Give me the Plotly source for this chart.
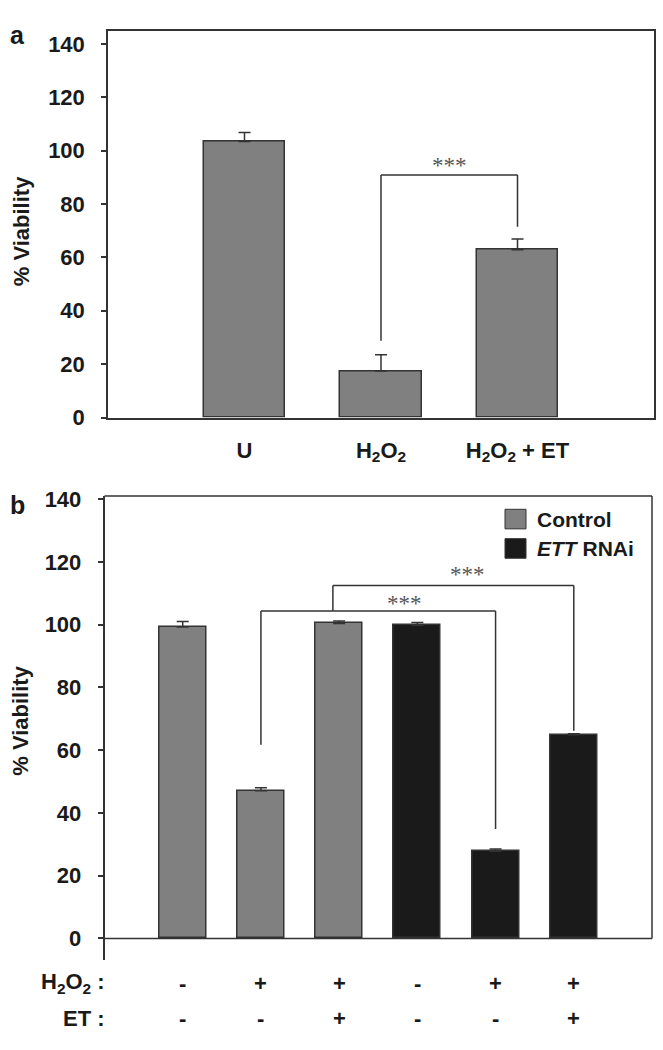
import plotly.graph_objects as go

# ---------------- data ----------------
# Panel a
cats_a = ["U", "H<sub>2</sub>O<sub>2</sub>", "H<sub>2</sub>O<sub>2</sub> + ET"]
vals_a = [103.4, 17.4, 62.9]
errs_a = [3.4, 6.1, 4.0]
# significance bracket a: (x_left, x_right, y_top, left_leg_bottom, right_leg_bottom)
brackets_a = [(1, 2, 90.9, 28.8, 71.5)]
stars_a = [(1.5, 96.4, "***")]

# Panel b
h2o2_row = ["-", "+", "+", "-", "+", "+"]
et_row = ["-", "-", "+", "-", "-", "+"]
ctrl_x = [0, 1, 2]
ctrl_vals = [99.3, 47.1, 100.4]
ctrl_errs = [1.7, 0.9, 0.8]
ett_x = [3, 4, 5]
ett_vals = [99.8, 27.8, 64.9]
ett_errs = [0.9, 0.7, 0.3]
brackets_b = [(1, 4, 104.4, 61.7, 34.9), (1.92, 5, 112.5, 104.4, 66.2)]
stars_b = [(2.84, 108.2, "***"), (3.64, 117.5, "***")]
legend_names = ["Control", "<i>ETT</i> RNAi"]

GREY = "#808080"
BLACK = "#1a1a1a"
LINE = "#333333"
TXT = "#1a1a1a"
FONT = "Liberation Sans, Arial, sans-serif"

W, H = 663, 1050


def px_x(p):
    return p / W


def px_y(p):
    return 1 - p / H


fig = go.Figure()

fig.add_trace(go.Bar(
    x=list(range(len(vals_a))), y=vals_a, width=0.6,
    marker=dict(color=GREY, line=dict(color=LINE, width=1.5)),
    error_y=dict(type="data", symmetric=False, array=errs_a,
                 arrayminus=[0] * len(errs_a), color=LINE, thickness=1.5, width=6),
    xaxis="x", yaxis="y", showlegend=False))

fig.add_trace(go.Bar(
    x=ctrl_x, y=ctrl_vals, width=0.6,
    marker=dict(color=GREY, line=dict(color=LINE, width=1.5)),
    error_y=dict(type="data", symmetric=False, array=ctrl_errs,
                 arrayminus=[0] * 3, color=LINE, thickness=1.5, width=6),
    xaxis="x2", yaxis="y2", showlegend=False, name="Control"))

fig.add_trace(go.Bar(
    x=ett_x, y=ett_vals, width=0.6,
    marker=dict(color=BLACK, line=dict(color=LINE, width=1.5)),
    error_y=dict(type="data", symmetric=False, array=ett_errs,
                 arrayminus=[0] * 3, color=LINE, thickness=1.5, width=6),
    xaxis="x2", yaxis="y2", showlegend=False, name="ETT RNAi"))

shapes = []
annotations = []


def add_bracket(xr, yr, b):
    xl, xrgt, yt, lb, rb = b
    for (x0, y0, x1, y1) in [(xl, lb, xl, yt), (xl, yt, xrgt, yt), (xrgt, yt, xrgt, rb)]:
        shapes.append(dict(type="line", xref=xr, yref=yr, x0=x0, y0=y0, x1=x1, y1=y1,
                           line=dict(color=LINE, width=1.5)))


for b in brackets_a:
    add_bracket("x", "y", b)
for b in brackets_b:
    add_bracket("x2", "y2", b)

STAR_FONT = dict(family="Liberation Serif, serif", size=23, color="#555555")
for (sx, sy, st) in stars_a:
    annotations.append(dict(x=sx, y=sy, xref="x", yref="y", text=st, showarrow=False,
                            yanchor="middle", yshift=-5, font=STAR_FONT))
for (sx, sy, st) in stars_b:
    annotations.append(dict(x=sx, y=sy, xref="x2", yref="y2", text=st, showarrow=False,
                            yanchor="middle", yshift=-5, font=STAR_FONT))

# panel b frame pieces: zero line, top line, right line (down to zero only)
shapes.append(dict(type="line", xref="x2 domain", yref="y2", x0=0, x1=1, y0=0, y1=0,
                   line=dict(color=LINE, width=1.5)))
shapes.append(dict(type="line", xref="x2 domain", yref="y2 domain", x0=0, x1=1, y0=1, y1=1,
                   line=dict(color=LINE, width=1.5)))
shapes.append(dict(type="line", xref="x2 domain", yref="y2", x0=1, x1=1, y0=0, y1=141,
                   line=dict(color=LINE, width=1.5)))

# legend (panel b)
leg_colors = [GREY, BLACK]
leg_y = [521, 551]
for name, col, yc in zip(legend_names, leg_colors, leg_y):
    shapes.append(dict(type="rect", xref="paper", yref="paper",
                       x0=px_x(505), x1=px_x(526), y0=px_y(yc + 10), y1=px_y(yc - 10),
                       fillcolor=col, line=dict(color=LINE, width=1)))
    annotations.append(dict(x=px_x(535), y=px_y(yc), xref="paper", yref="paper", text=name,
                            showarrow=False, xanchor="left", yanchor="middle",
                            font=dict(family=FONT, size=21, color=TXT, weight="bold")))

# treatment rows (panel b)
row_y = [995, 1031]
row_labels = ["H<sub>2</sub>O<sub>2</sub> :", "ET :"]
for lab, yy in zip(row_labels, row_y):
    annotations.append(dict(x=px_x(107), y=px_y(yy), xref="paper", yref="paper", text=lab,
                            showarrow=False, xanchor="right", yanchor="middle",
                            font=dict(family=FONT, size=22, color=TXT, weight="bold")))
for row, yy in zip([h2o2_row, et_row], row_y):
    for i, s in enumerate(row):
        annotations.append(dict(x=i, y=px_y(yy), xref="x2", yref="paper", text=s,
                                showarrow=False, xanchor="center", yanchor="middle",
                                font=dict(family=FONT, size=22, color=TXT, weight="bold")))

# y titles and panel letters
for yc in [227, 727]:
    annotations.append(dict(x=px_x(21), y=px_y(yc), xref="paper", yref="paper",
                            text="% Viability", textangle=-90, showarrow=False,
                            xanchor="center", yanchor="middle",
                            font=dict(family=FONT, size=22, color=TXT, weight="bold")))
for lab, (lx, ly) in zip(["a", "b"], [(17, 27), (17, 507)]):
    annotations.append(dict(x=px_x(lx), y=px_y(ly), xref="paper", yref="paper", text=lab,
                            showarrow=False, xanchor="center", yanchor="middle",
                            font=dict(family=FONT, size=25, color=TXT, weight="bold")))

tickfont = dict(family=FONT, size=22, color=TXT, weight="bold")

fig.update_layout(
    width=W, height=H, autosize=False,
    margin=dict(l=0, r=0, t=0, b=0),
    paper_bgcolor="white", plot_bgcolor="white",
    shapes=shapes, annotations=annotations,
    xaxis=dict(domain=[px_x(108), px_x(654)], anchor="y", range=[-1, 3],
               tickvals=list(range(len(cats_a))), ticktext=cats_a, ticks="",
               showline=True, mirror=True, linecolor=LINE, linewidth=1.5,
               showgrid=False, zeroline=False, tickfont=tickfont, ticklabelstandoff=12),
    yaxis=dict(domain=[px_y(417.3), px_y(22)], anchor="x", range=[0, 145],
               tickvals=list(range(0, 141, 20)), ticks="outside", ticklen=5,
               tickcolor=LINE, tickwidth=1.5,
               showline=True, mirror=True, linecolor=LINE, linewidth=1.5,
               showgrid=False, zeroline=False, tickfont=tickfont, ticklabelstandoff=12),
    xaxis2=dict(domain=[px_x(104.5), px_x(652)], anchor="y2", range=[-1, 6],
                showticklabels=False, ticks="", showline=False,
                showgrid=False, zeroline=False),
    yaxis2=dict(domain=[px_y(971.7), px_y(497.5)], anchor="x2", range=[-7, 141],
                tickvals=list(range(0, 141, 20)), ticks="outside", ticklen=5,
                tickcolor=LINE, tickwidth=1.5,
                showline=True, linecolor=LINE, linewidth=1.5,
                showgrid=False, zeroline=False, tickfont=tickfont, ticklabelstandoff=12),
    bargap=0,
)

fig.write_html("out.html", config={"displayModeBar": False},
               post_script="document.body.style.margin='0';document.body.style.overflow='hidden';")
